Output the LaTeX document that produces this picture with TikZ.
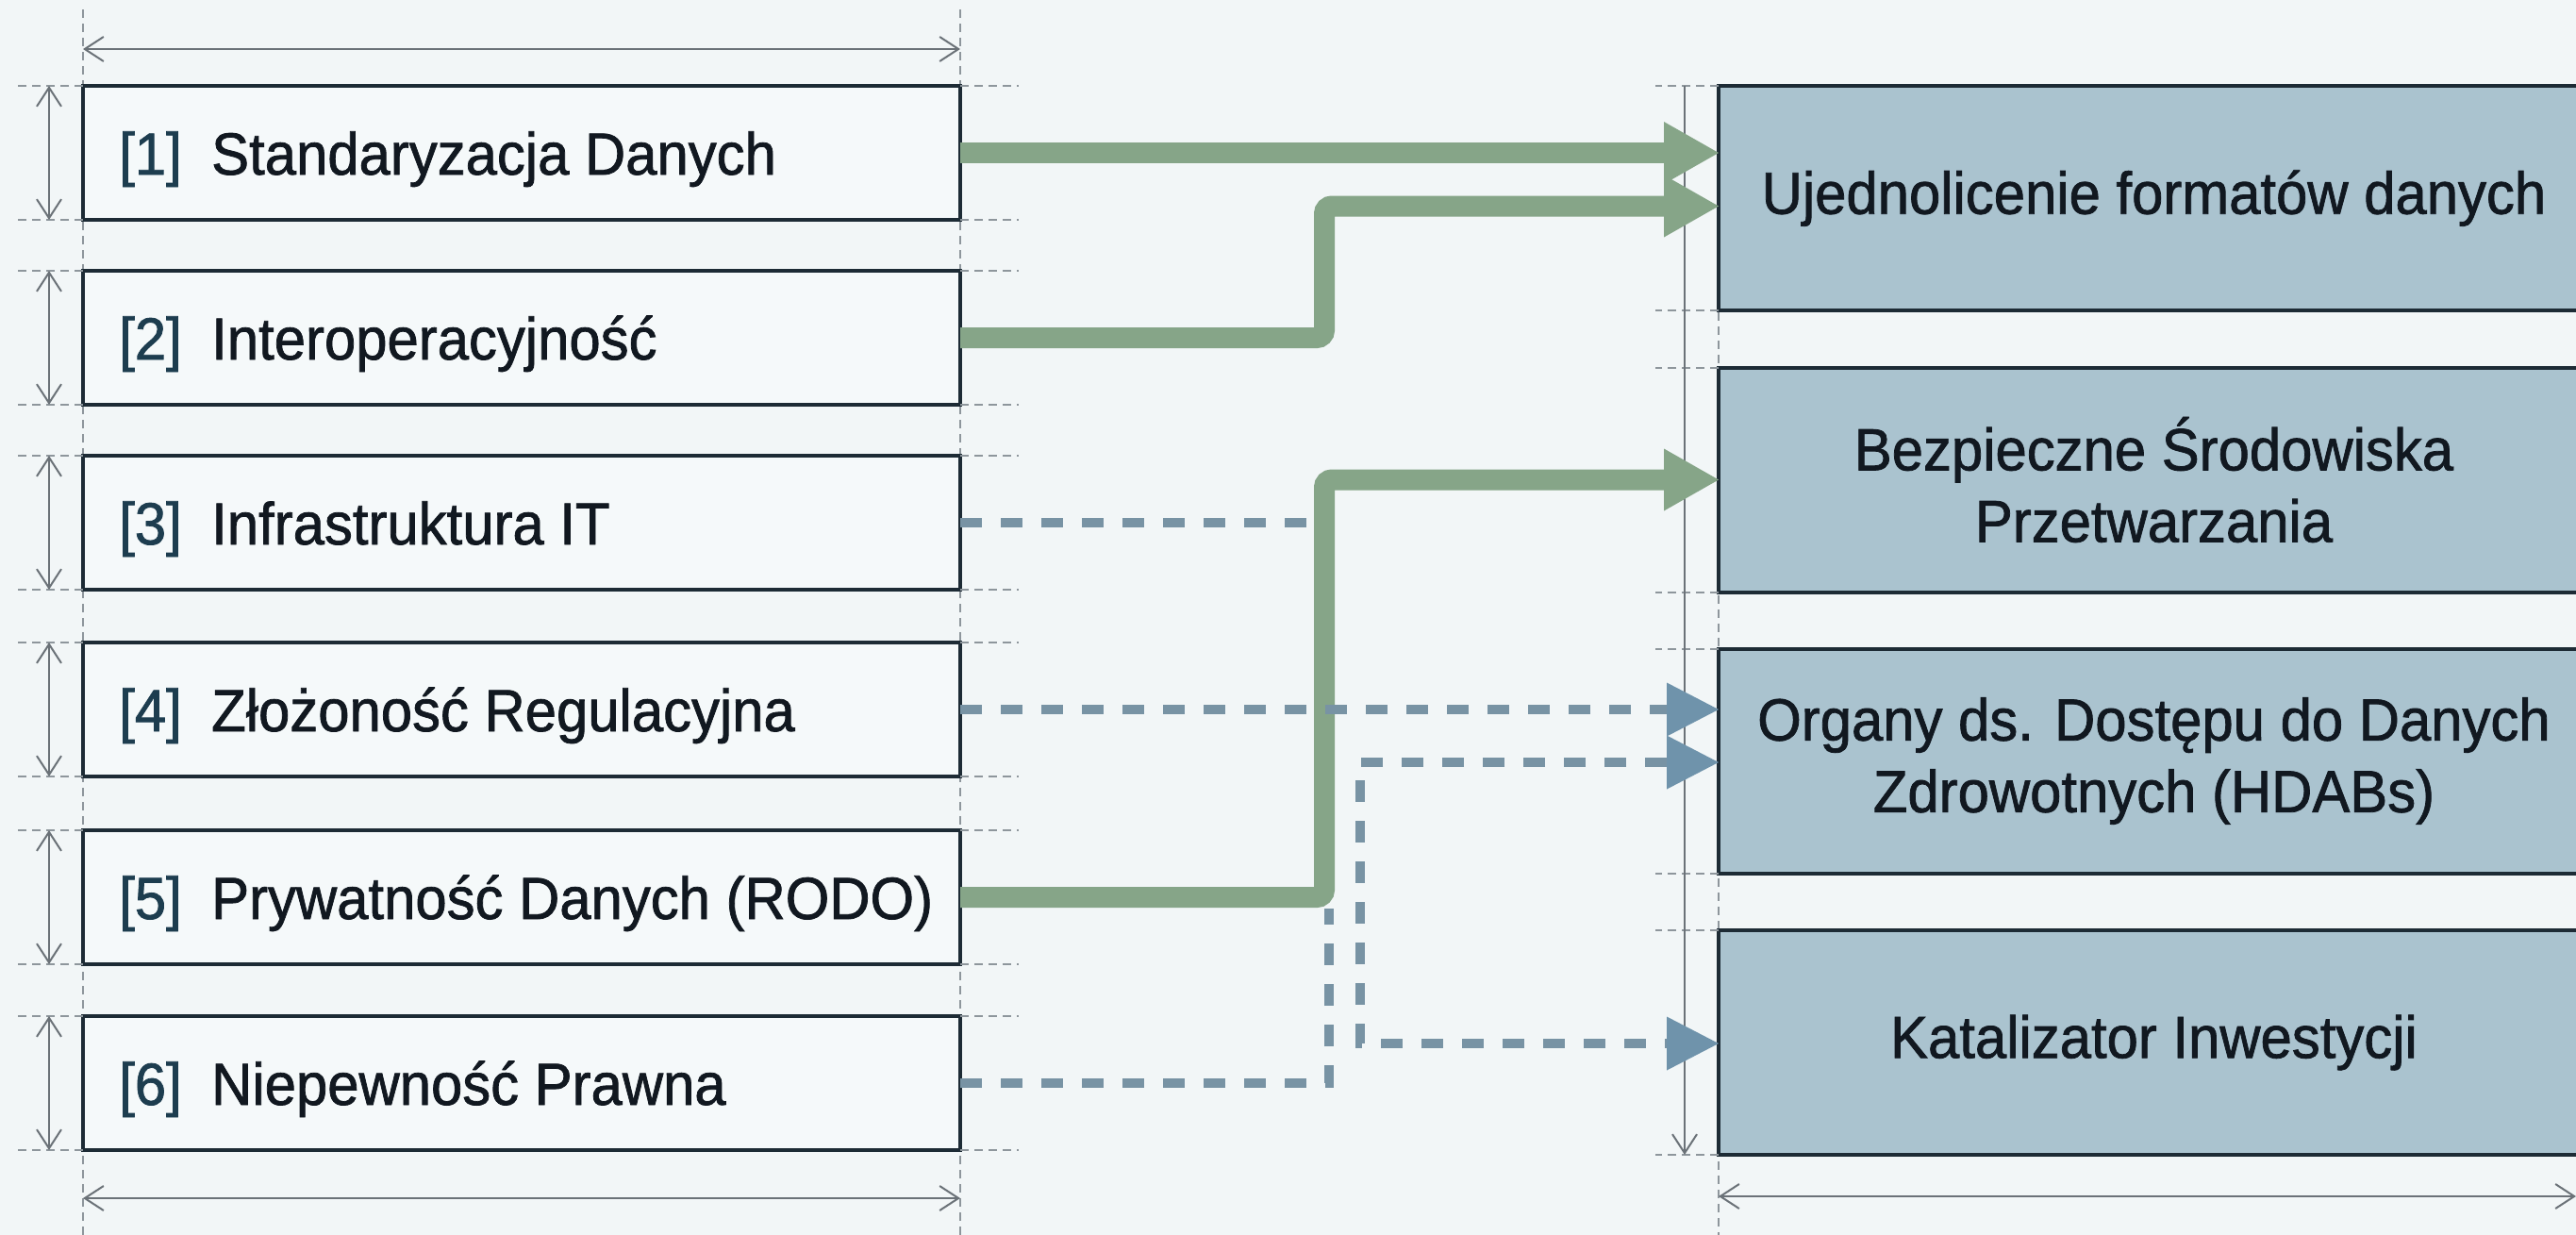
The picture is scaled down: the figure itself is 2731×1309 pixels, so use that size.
\documentclass[tikz,border=0pt]{standalone}
\usepackage{fontspec}
\setmainfont{Liberation Sans}[FakeStretch=0.95,FakeBold=1.2]
\usetikzlibrary{arrows.meta}
\definecolor{bgc}{HTML}{F2F6F7}
\definecolor{lfill}{HTML}{F5F9FA}
\definecolor{rfill}{HTML}{AAC3CF}
\definecolor{edgec}{HTML}{1D2B35}
\definecolor{flowg}{HTML}{86A588}
\definecolor{flowb}{HTML}{7893A4}
\definecolor{tipb}{HTML}{6F93AB}
\definecolor{dimc}{HTML}{6B7278}
\definecolor{extc}{HTML}{8E969C}
\definecolor{numc}{HTML}{1D3D4F}
\definecolor{txtc}{HTML}{111820}
\newcommand{\numlbl}[1]{\makebox[98pt][l]{\color{numc}[#1]}}
\begin{document}
\begin{tikzpicture}[x=1pt,y=-1pt,
  lbox/.style={draw=edgec, line width=4pt, fill=lfill, minimum width=930pt, minimum height=142pt, inner sep=0pt, outer sep=0pt},
  rbox/.style={draw=edgec, line width=4pt, fill=rfill, minimum width=923pt, minimum height=238pt, inner sep=0pt, outer sep=0pt,
     align=center, text=txtc, font=\fontsize{63}{76}\selectfont},
  ltext/.style={anchor=base west, inner sep=0pt, text=txtc, font=\fontsize{63}{72}\selectfont},
  gline/.style={draw=flowg, line width=22pt, rounded corners=8pt, -{Triangle[length=58pt,width=66pt,line width=0pt,color=flowg]}},
  dline/.style={draw=flowb, line width=10pt, dash pattern=on 23pt off 20pt},
  btip/.tip={Triangle[length=55pt,width=57pt,line width=0pt,color=tipb]},
  dim/.style={draw=dimc, line width=2pt},
  barb/.tip={Straight Barb[length=20pt,width=26pt,line width=2pt]},
  ext/.style={draw=extc, line width=2pt, dash pattern=on 9pt off 6pt}]
\useasboundingbox[fill=bgc] (0,0) rectangle (2731,1309);
% vertical extension lines
\draw[ext] (88,10) -- (88,1309);
\draw[ext] (1018,10) -- (1018,1309);
\draw[ext] (1822,91) -- (1822,1309);
% boxes
\node[lbox] (l1) at (553,162) {};
\node[lbox] (l2) at (553,358) {};
\node[lbox] (l3) at (553,554) {};
\node[lbox] (l4) at (553,752) {};
\node[lbox] (l5) at (553,951) {};
\node[lbox] (l6) at (553,1148) {};
\node[ltext] (t1) at ([xshift=38pt,yshift=-23pt]l1.west) {\numlbl{1}Standaryzacja Danych};
\node[ltext] (t2) at ([xshift=38pt,yshift=-23pt]l2.west) {\numlbl{2}Interoperacyjność};
\node[ltext] (t3) at ([xshift=38pt,yshift=-23pt]l3.west) {\numlbl{3}Infrastruktura IT};
\node[ltext] (t4) at ([xshift=38pt,yshift=-23pt]l4.west) {\numlbl{4}Złożoność Regulacyjna};
\node[ltext] (t5) at ([xshift=38pt,yshift=-23pt]l5.west) {\numlbl{5}Prywatność Danych (RODO)};
\node[ltext] (t6) at ([xshift=38pt,yshift=-23pt]l6.west) {\numlbl{6}Niepewność Prawna};
\node[rbox] (r1) at (2283.5,210) {Ujednolicenie formatów danych};
\node[rbox] (r2) at (2283.5,508.5) {Bezpieczne Środowiska\\Przetwarzania};
\node[rbox] (r3) at (2283.5,806.5) {Organy ds. Dostępu do Danych\\Zdrowotnych (HDABs)};
\node[rbox] (r4) at (2283.5,1105) {Katalizator Inwestycji};
% horizontal extension lines and row dimensions
\foreach \n in {l1,l2,l3,l4,l5,l6}{
  \draw[ext] (\n.north west) -- ++(-70,0);
  \draw[ext] (\n.south west) -- ++(-70,0);
  \draw[ext] (\n.north east) -- ++(62,0);
  \draw[ext] (\n.south east) -- ++(62,0);
  \draw[dim, barb-barb] ([xshift=-36pt]\n.north west) -- ([xshift=-36pt]\n.south west);
}
\foreach \n in {r1,r2,r3,r4}{
  \draw[ext] (\n.north west) -- ++(-67,0);
  \draw[ext] (\n.south west) -- ++(-67,0);
}
% dimension lines
\draw[dim, barb-barb] (l1.north west |- 0,52) -- (l1.north east |- 0,52);
\draw[dim, barb-barb] (l6.south west |- 0,1270) -- (l6.south east |- 0,1270);
\draw[dim, -barb] ([xshift=-36pt]r1.north west) -- ([xshift=-36pt]r4.south west);
\draw[dim, barb-barb] (r4.south west |- 0,1268) -- (2731,1268);
% green connectors
\draw[gline] (l1.east) -- (r1.west |- l1.east);
\draw[gline] (l2.east) -| (1404,218.5) -- ([yshift=-8.5pt]r1.west);
\draw[gline] (l5.east) -| (1404,508.5) -- (r2.west);
% dashed connectors
\coordinate (j3) at (1393,554);
\coordinate (j6) at (1409,963);
\draw[dline] (l3.east) -- (j3);
\draw[dline, -btip] (l4.east) -- (r3.west |- l4.east);
\draw[dline] (l6.east) -| (j6);
\draw[dline, btip-btip] ([yshift=-1.5pt]r3.west) -| (1442,1106) -- ([yshift=-1pt]r4.west);
\end{tikzpicture}
\end{document}
